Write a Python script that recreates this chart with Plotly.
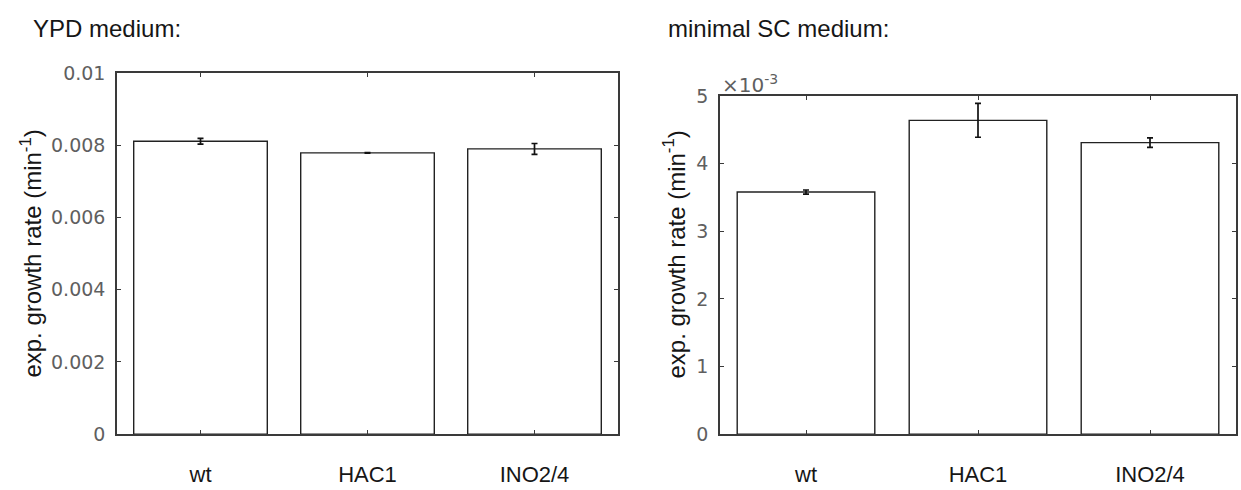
import plotly.graph_objects as go

# Strains and measured exponential growth rates (min^-1)
strains = ["wt", "HAC1", "INO2/4"]

ypd_rate = [0.00811, 0.00779, 0.00790]
ypd_err = [0.00008, 0.00001, 0.00015]

sc_rate = [0.00358, 0.00464, 0.00431]
sc_err = [0.00003, 0.00025, 0.00007]

ypd_ticks = [0, 0.002, 0.004, 0.006, 0.008, 0.01]
ypd_ticktext = ["0", "0.002", "0.004", "0.006", "0.008", "0.01"]
sc_ticks = [0, 0.001, 0.002, 0.003, 0.004, 0.005]
sc_ticktext = ["0", "1", "2", "3", "4", "5"]

W, H = 1241, 490
AXIS_COLOR = "#3a3a3a"
TICK_COLOR = "#5f5f5f"
TEXT_COLOR = "#161616"
TEXT_FONT = "Liberation Sans, Arial, sans-serif"
NUM_FONT = "DejaVu Sans, sans-serif"


def px_x(a, b):
    return [a / W, b / W]


def px_y(top, bottom):
    return [1 - bottom / H, 1 - top / H]


fig = go.Figure()


def add_bars(values, errors, xa, ya):
    fig.add_trace(go.Bar(
        x=[1, 2, 3], y=values, width=0.8,
        marker=dict(color="white", line=dict(color="#222222", width=1.4)),
        error_y=dict(type="data", array=errors, visible=True,
                     color="#111111", thickness=1.7, width=3),
        xaxis=xa, yaxis=ya, showlegend=False, hoverinfo="skip",
    ))


add_bars(ypd_rate, ypd_err, "x", "y")
add_bars(sc_rate, sc_err, "x2", "y2")

common_x = dict(
    range=[0.5, 3.5], tickvals=[1, 2, 3], ticktext=strains,
    ticks="inside", ticklen=4, tickcolor=AXIS_COLOR, tickwidth=1,
    showline=True, linecolor=AXIS_COLOR, linewidth=1.5, mirror="ticks",
    showgrid=False, zeroline=False, fixedrange=True,
    tickfont=dict(family=TEXT_FONT, size=22, color=TEXT_COLOR),
    ticklabelstandoff=20,
)
common_y = dict(
    ticks="inside", ticklen=4, tickcolor=AXIS_COLOR, tickwidth=1,
    showline=True, linecolor=AXIS_COLOR, linewidth=1.5, mirror="ticks",
    showgrid=False, zeroline=False, fixedrange=True,
    tickfont=dict(family=NUM_FONT, size=19, color=TICK_COLOR),
    ticklabelstandoff=6,
)

fig.update_layout(
    width=W, height=H,
    margin=dict(l=0, r=0, t=0, b=0),
    paper_bgcolor="white", plot_bgcolor="white",
    bargap=0.2,
    xaxis=dict(domain=px_x(117, 618), anchor="y", **common_x),
    yaxis=dict(domain=px_y(65, 443), anchor="x", range=[0, 0.01],
               tickvals=ypd_ticks, ticktext=ypd_ticktext, **common_y),
    xaxis2=dict(domain=px_x(720, 1236), anchor="y2", **common_x),
    yaxis2=dict(domain=px_y(89, 443), anchor="x2", range=[0, 0.005],
                tickvals=sc_ticks, ticktext=sc_ticktext, **common_y),
)

title_font = dict(family=TEXT_FONT, size=24, color=TEXT_COLOR)
annotations = [
    dict(text="YPD medium:", x=31 / W, y=1 - 18 / H, xanchor="left",
         yanchor="middle", font=title_font),
    dict(text="minimal SC medium:", x=666 / W, y=1 - 18 / H, xanchor="left",
         yanchor="middle", font=title_font),
    dict(text="exp. growth rate (min<sup>-1</sup>)", x=31 / W, y=1 - 254 / H,
         textangle=-90, xanchor="center", yanchor="middle", font=title_font),
    dict(text="exp. growth rate (min<sup>-1</sup>)", x=674 / W, y=1 - 255 / H,
         textangle=-90, xanchor="center", yanchor="middle", font=title_font),
    dict(text="\u00d710<sup>-3</sup>", x=720 / W, y=1 - 76 / H, xanchor="left",
         yanchor="middle", font=dict(family=NUM_FONT, size=20, color=TICK_COLOR)),
]
for a in annotations:
    a.update(xref="paper", yref="paper", showarrow=False)
fig.update_layout(annotations=annotations)

# Let the figure fill the page exactly, without the default body margin
fig.write_html(
    "out.html",
    post_script="document.body.style.margin='0px';"
                "document.body.style.overflow='hidden';",
)
